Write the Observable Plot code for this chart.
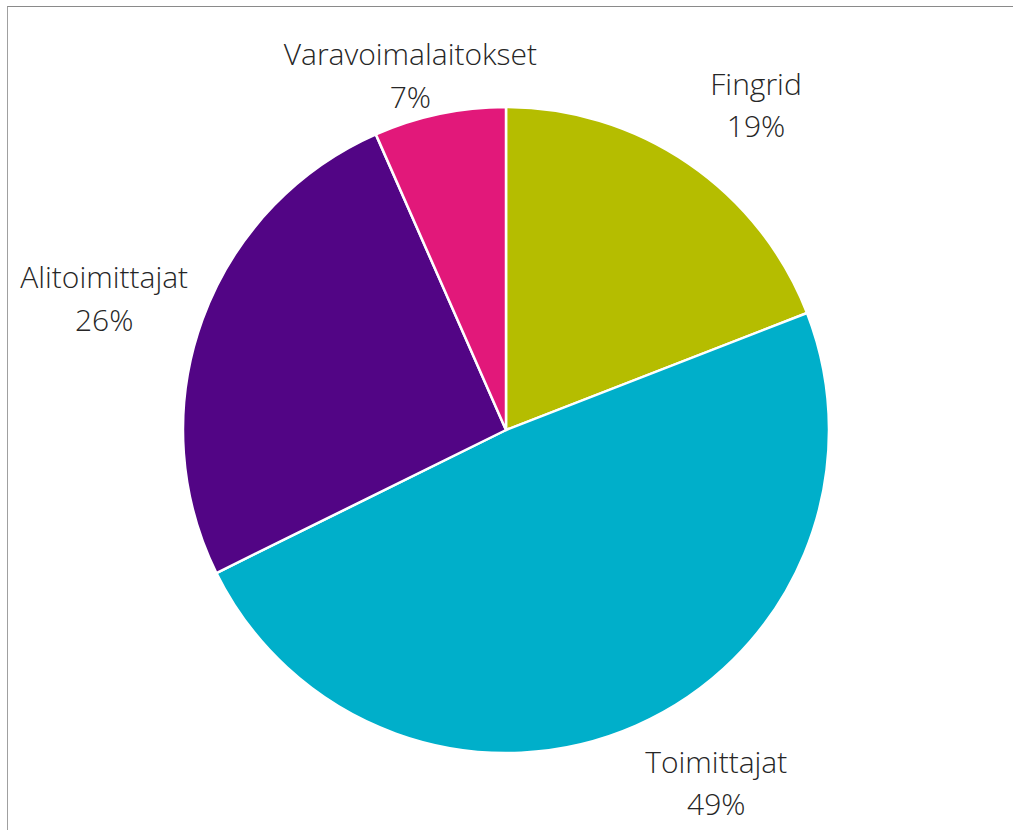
<!DOCTYPE html>
<html>
<head>
<meta charset="utf-8">
<script src="https://cdn.jsdelivr.net/npm/d3@7"></script>
<script src="https://cdn.jsdelivr.net/npm/@observablehq/plot@0.6"></script>
<style>
  html, body { margin: 0; padding: 0; background: #fff; }
  #wrap { position: relative; width: 1013px; height: 830px; overflow: hidden; }
  #border { position: absolute; left: 7px; top: 6px; right: 0; bottom: 0;
            border-top: 1px solid #8a8a8a; border-left: 1px solid #a0a0a0; }
  #chart { position: absolute; left: 0; top: 0; }
</style>
</head>
<body>
<div id="wrap"><div id="border"></div><div id="chart"></div></div>
<script>
// ---- data ----
const categories = ["Fingrid", "Toimittajat", "Alitoimittajat", "Varavoimalaitokset"];
const shares = [19.1, 48.6, 25.7, 6.6];          // percent
const colors = ["#B5BD00", "#00AFCA", "#520585", "#E2187A"];

// ---- layout (not data) ----
const W = 1013, H = 830;
const cx = 506, cy = 430, R = 323;
const labelRadius = 1.22;                          // in units of the pie radius
const labelNudge = [[27, -3], [51, -11], [-32, 0], [-15, 28]]; // pixel nudges like Excel's placement

const pie = d3.pie().sort(null).value(d => d.share)(
  categories.map((c, i) => ({category: c, share: shares[i]}))
);
const labels = pie.map((p, i) => {
  const mid = (p.startAngle + p.endAngle) / 2;
  return {
    category: p.data.category,
    text: `${p.data.category}\n${Math.round(p.data.share)}%`,
    x: labelRadius * Math.sin(mid) + labelNudge[i][0] / R,
    y: labelRadius * Math.cos(mid) - labelNudge[i][1] / R
  };
});

const slices = (index, scales) => {
  const x0 = scales.x(0), y0 = scales.y(0);
  const r = scales.x(1) - scales.x(0);
  const arc = d3.arc().innerRadius(0).outerRadius(r);
  const g = d3.create("svg:g").attr("transform", `translate(${x0},${y0})`);
  g.selectAll("path").data(pie).join("path")
    .attr("d", arc)
    .attr("fill", d => scales.color ? scales.color(d.data.category) : colors[categories.indexOf(d.data.category)])
    .attr("stroke", "#fff")
    .attr("stroke-width", 2.5)
    .attr("stroke-linejoin", "round");
  return g.node();
};

const chart = Plot.plot({
  width: W,
  height: H,
  margin: 0,
  style: {background: "transparent", overflow: "visible"},
  x: {domain: [-1, 1], range: [cx - R, cx + R], axis: null},
  y: {domain: [-1, 1], range: [cy + R, cy - R], axis: null},
  color: {domain: categories, range: colors},
  marks: [
    slices,
    Plot.text(labels, {
      x: "x", y: "y", text: "text",
      fontSize: 30, lineHeight: 1.42,
      fill: "#262626", fontWeight: 300,
      fontFamily: "'Open Sans', 'Noto Sans', sans-serif",
      textAnchor: "middle", lineAnchor: "middle"
    })
  ]
});
document.getElementById("chart").appendChild(chart);
</script>
</body>
</html>
